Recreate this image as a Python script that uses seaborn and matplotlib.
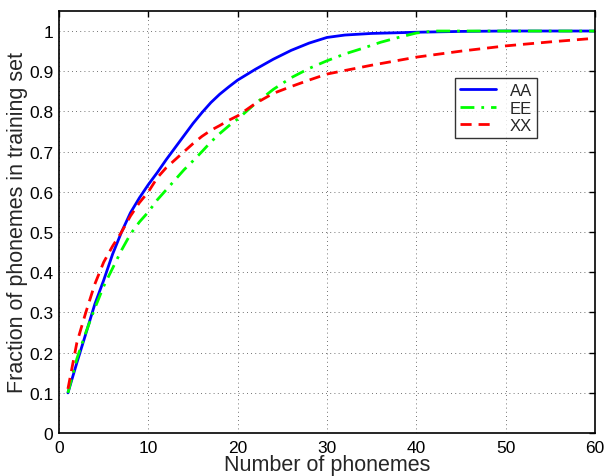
import matplotlib
matplotlib.use("Agg")
import matplotlib.pyplot as plt
import seaborn as sns
import pandas as pd

x_aa = [1, 2, 3, 4, 5, 6, 7, 8, 9, 10, 11, 12, 13, 14, 15, 16, 17, 18, 19, 20, 22, 24, 26, 28, 30, 32, 35, 40, 45, 50, 55, 60]
y_aa = [0.10, 0.175, 0.247, 0.32, 0.38, 0.445, 0.50, 0.548, 0.585, 0.618, 0.648, 0.68, 0.71, 0.74, 0.77, 0.797, 0.822, 0.843, 0.861, 0.878, 0.905, 0.93, 0.952, 0.97, 0.984, 0.99, 0.994, 0.997, 0.999, 1.0, 1.0, 1.0]

x_ee = [1, 2, 3, 4, 5, 6, 7, 8, 9, 10, 11, 12, 13, 14, 15, 16, 17, 18, 19, 20, 22, 24, 26, 28, 30, 32, 34, 36, 38, 40, 42, 50, 60]
y_ee = [0.10, 0.185, 0.25, 0.31, 0.365, 0.41, 0.455, 0.495, 0.525, 0.55, 0.58, 0.605, 0.63, 0.655, 0.677, 0.70, 0.724, 0.745, 0.764, 0.781, 0.82, 0.855, 0.884, 0.907, 0.926, 0.943, 0.957, 0.972, 0.984, 0.995, 1.0, 1.0, 1.0]

x_xx = [1, 2, 3, 4, 5, 6, 7, 8, 9, 10, 11, 12, 13, 14, 15, 16, 17, 18, 19, 20, 22, 24, 26, 28, 30, 35, 40, 45, 50, 55, 60]
y_xx = [0.11, 0.225, 0.30, 0.37, 0.425, 0.465, 0.50, 0.54, 0.573, 0.60, 0.635, 0.66, 0.68, 0.70, 0.72, 0.738, 0.753, 0.765, 0.778, 0.789, 0.82, 0.845, 0.862, 0.878, 0.893, 0.915, 0.935, 0.95, 0.963, 0.973, 0.982]

labels = ["AA", "EE", "XX"]
x_ticks = [0, 10, 20, 30, 40, 50, 60]
y_ticks = [0, 0.1, 0.2, 0.3, 0.4, 0.5, 0.6, 0.7, 0.8, 0.9, 1]

sns.set_theme(style="white")
plt.rcParams['font.family'] = ['Liberation Sans', 'DejaVu Sans']

fig = plt.figure(figsize=(6.04, 4.77), dpi=100)
ax = fig.add_axes([0.0977, 0.090, 0.8873, 0.885])

df_aa = pd.DataFrame({"x": x_aa, "y": y_aa})
df_ee = pd.DataFrame({"x": x_ee, "y": y_ee})
df_xx = pd.DataFrame({"x": x_xx, "y": y_xx})

sns.lineplot(data=df_aa, x="x", y="y", ax=ax, color="#0000ff", lw=2, label=labels[0])
sns.lineplot(data=df_ee, x="x", y="y", ax=ax, color="#00ff00", lw=2, label=labels[1],
             linestyle=(0, (5, 2.5, 1, 2.5)))
sns.lineplot(data=df_xx, x="x", y="y", ax=ax, color="#ff0000", lw=2, label=labels[2],
             linestyle=(0, (4, 2.5)))

ax.set_xlim(0, 60)
ax.set_ylim(0, 1.05)
ax.set_xticks(x_ticks)
ax.set_xticklabels([str(t) for t in x_ticks])
ax.set_yticks(y_ticks)
ax.set_yticklabels(["0", "0.1", "0.2", "0.3", "0.4", "0.5", "0.6", "0.7", "0.8", "0.9", "1"])
ax.grid(True, color="#444444", linestyle=(0, (1, 4)), linewidth=0.6)
ax.tick_params(direction="in", length=4, width=1, top=True, right=True,
               labelsize=12.5, colors="black", pad=4)
ax.tick_params(axis="x", pad=5)
for s in ax.spines.values():
    s.set_color("black")
    s.set_linewidth(1.2)

ax.set_xlabel("Number of phonemes", fontsize=15.5, labelpad=-1)
ax.set_ylabel("Fraction of phonemes in training set", fontsize=15.5, labelpad=1)

leg = ax.legend(loc="upper right", bbox_to_anchor=(0.892, 0.841), frameon=True,
                fancybox=False, edgecolor="black", fontsize=12, handlelength=2.2,
                borderpad=0.3, labelspacing=0.15, handletextpad=0.8, borderaxespad=0)
leg.get_frame().set_linewidth(1.0)

fig.savefig("out.png", dpi=100)
